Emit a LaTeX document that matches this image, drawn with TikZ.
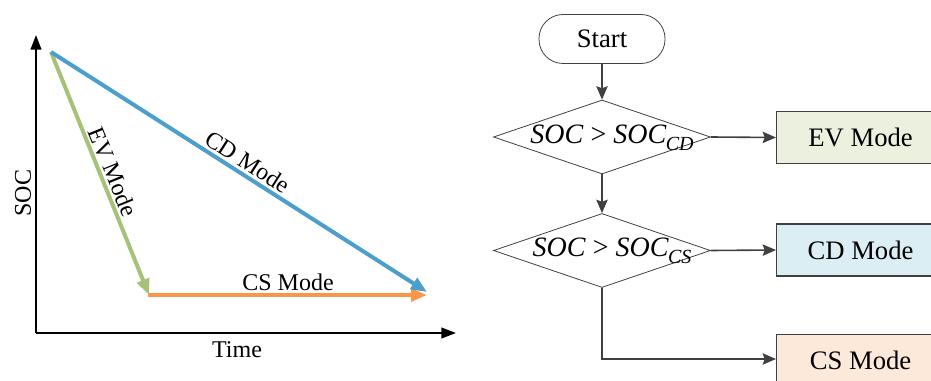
\documentclass[tikz,border=0pt]{standalone}
\usepackage{fontspec}
\setmainfont{Liberation Serif}
\usetikzlibrary{arrows.meta,shapes.geometric}
\definecolor{evgreen}{HTML}{A6C27A}
\definecolor{cdblue}{HTML}{4C9ECD}
\definecolor{csorange}{HTML}{F99647}
\definecolor{evfill}{HTML}{EBF1DE}
\definecolor{cdfill}{HTML}{DBEEF4}
\definecolor{csfill}{HTML}{FDE9D9}
\definecolor{flowgray}{HTML}{404040}
\tikzset{
  axisline/.style={line width=1.5pt, black, -{Triangle[length=11pt,width=8pt]}},
  curveline/.style={line width=3pt, -{Triangle[length=12pt,width=9.5pt]}},
  plotlabel/.style={font=\fontsize{18}{20}\selectfont, inner sep=0pt},
  flowtext/.style={font=\fontsize{20}{22}\selectfont},
  startbox/.style={draw=flowgray, line width=0.6pt, rounded corners=18pt, minimum width=94.5pt, minimum height=36.75pt, flowtext},
  decision/.style={draw=flowgray, line width=0.6pt, diamond, inner sep=0pt, minimum width=162.75pt, minimum height=55.5pt},
  modebox/.style={draw=flowgray, line width=0.8pt, minimum width=126pt, minimum height=39pt, flowtext},
  flowarrow/.style={draw=flowgray, line width=1.2pt, -{Stealth[length=10pt,width=8.5pt,inset=1.5pt]}},
}
\begin{document}
\begin{tikzpicture}[x=0.75pt,y=-0.75pt]
\useasboundingbox (0,0) rectangle (931,381);
\begin{scope}
\clip (0,0) rectangle (931,381);
% ---------- plot ----------
\coordinate (O) at (36,333);
\coordinate (Ytop) at (36,35);
\coordinate (Xend) at (456,333);
\coordinate (S) at (51,52);
\coordinate (EVend) at (149,295);
\coordinate (CSstart) at (148,295);
\coordinate (CDend) at (427,292);
\coordinate (CSend) at (427,295);
\draw[axisline] (O) -- (Ytop);
\draw[axisline] (O) -- (Xend);
\draw[curveline, evgreen] (S) -- (EVend);
\draw[curveline, csorange] (CSstart) -- (CSend);
\draw[curveline, cdblue] (S) -- (CDend);
\node[plotlabel, rotate=-32.55] (cdlab) at (248,162) {CD Mode};
\node[plotlabel, rotate=-68] (evlab) at (113,172) {EV Mode};
\node[plotlabel] (cslab) at (288,282) {CS Mode};
\node[plotlabel] (timelab) at (237,350) {Time};
\node[plotlabel, rotate=90] (soclab) at (23,193) {SOC};
% ---------- flowchart ----------
\node[startbox] (start) at (602,39) {Start};
\node[decision] (d1) at (602,137) {};
\node[flowtext, inner sep=0pt, font=\fontsize{21}{22}\selectfont] (d1t) at (612,138) {\textit{SOC} > \textit{SOC}\raisebox{-0.5ex}{\kern-0.5pt\fontsize{15}{16}\selectfont\itshape CD}};
\node[decision] (d2) at (602,250.5) {};
\node[flowtext, inner sep=0pt, font=\fontsize{21}{22}\selectfont] (d2t) at (612,251) {\textit{SOC} > \textit{SOC}\raisebox{-0.5ex}{\kern-0.5pt\fontsize{15}{16}\selectfont\itshape CS}};
\node[modebox, fill=evfill, anchor=west] (ev) at (776,137.5) {EV Mode};
\node[modebox, fill=cdfill, anchor=west] (cd) at (776,250) {CD Mode};
\node[modebox, fill=csfill, anchor=north west] (cs) at (776,334) {CS Mode};
\draw[flowarrow] (start.south) -- (d1.north);
\draw[flowarrow] (d1.east) -- (ev.west);
\draw[flowarrow] (d1.south) -- (d2.north);
\draw[flowarrow] (d2.east) -- (cd.west);
\coordinate (csin) at (776,359);
\draw[flowarrow] (d2.south) |- (csin);
\end{scope}
\end{tikzpicture}
\end{document}
